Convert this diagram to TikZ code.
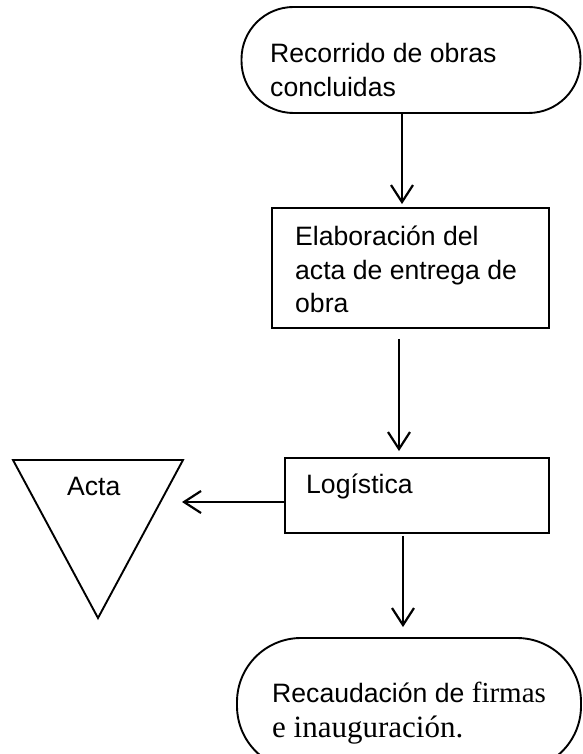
\documentclass[tikz,border=0pt]{standalone}
\usepackage{fontspec}
\setmainfont{Liberation Sans}
\newfontfamily\tnr{Liberation Serif}
\usetikzlibrary{arrows.meta}
\begin{document}
\begin{tikzpicture}[x=1pt,y=-1pt,
  outlined/.style={draw=black, line width=1.9pt, fill=none, inner sep=0pt},
  terminal/.style={outlined, rectangle, rounded corners=52pt},
  procbox/.style={outlined, rectangle},
  txt/.style={anchor=base west, inner sep=0pt, font=\fontsize{26.6}{33}\selectfont},
  arr/.style={line width=2.2pt, -{Straight Barb[length=17pt,width=22pt,line width=2.2pt]}}]
\useasboundingbox (0,0) rectangle (582,754);
\clip (0,0) rectangle (582,754);
% shapes
\node[terminal, minimum width=339pt, minimum height=106pt] (t1) at (411,60) {};
\node[procbox, minimum width=277pt, minimum height=120pt] (b2) at (410.5,268) {};
\node[procbox, minimum width=264pt, minimum height=75pt] (b3) at (417,495.5) {};
\node[terminal, rounded corners=64pt, minimum width=344pt, minimum height=132pt] (t2) at (409,704) {};
\draw[line width=1.9pt] (13,460) -- (183,460) -- (98,618) -- cycle;
\coordinate (acta) at (182,502);
% texts
\node[txt] (l1a) at (270,63) {Recorrido de obras};
\node[txt] (l1b) at (270,97) {concluidas};
\node[txt] (l2a) at (295,245) {Elaboración del};
\node[txt] (l2b) at (295,279) {acta de entrega de};
\node[txt] (l2c) at (295,312) {obra};
\node[txt] (l3) at (306,493) {Logística};
\node[txt] (la) at (67,495) {Acta};
\node[txt] (l4a) at (272,702) {Recaudación de {\tnr\fontsize{29}{33}\selectfont firmas}};
\node[txt, font=\tnr\fontsize{31}{33}\selectfont] (l4b) at (272,737) {e inauguración.};
% connectors
\draw[arr] ([xshift=-9pt]t1.south) -- ([xshift=-9pt,yshift=3pt]t1.south |- b2.north);
\draw[arr] ([xshift=-11.5pt,yshift=-10pt]b2.south) -- ([xshift=-11.5pt,yshift=6pt]b2.south |- b3.north);
\draw[arr] ([xshift=-14pt,yshift=-2pt]b3.south) -- ([xshift=-14pt,yshift=10pt]b3.south |- t2.north);
\draw[arr] (b3.west |- acta) -- (acta);
\end{tikzpicture}
\end{document}
